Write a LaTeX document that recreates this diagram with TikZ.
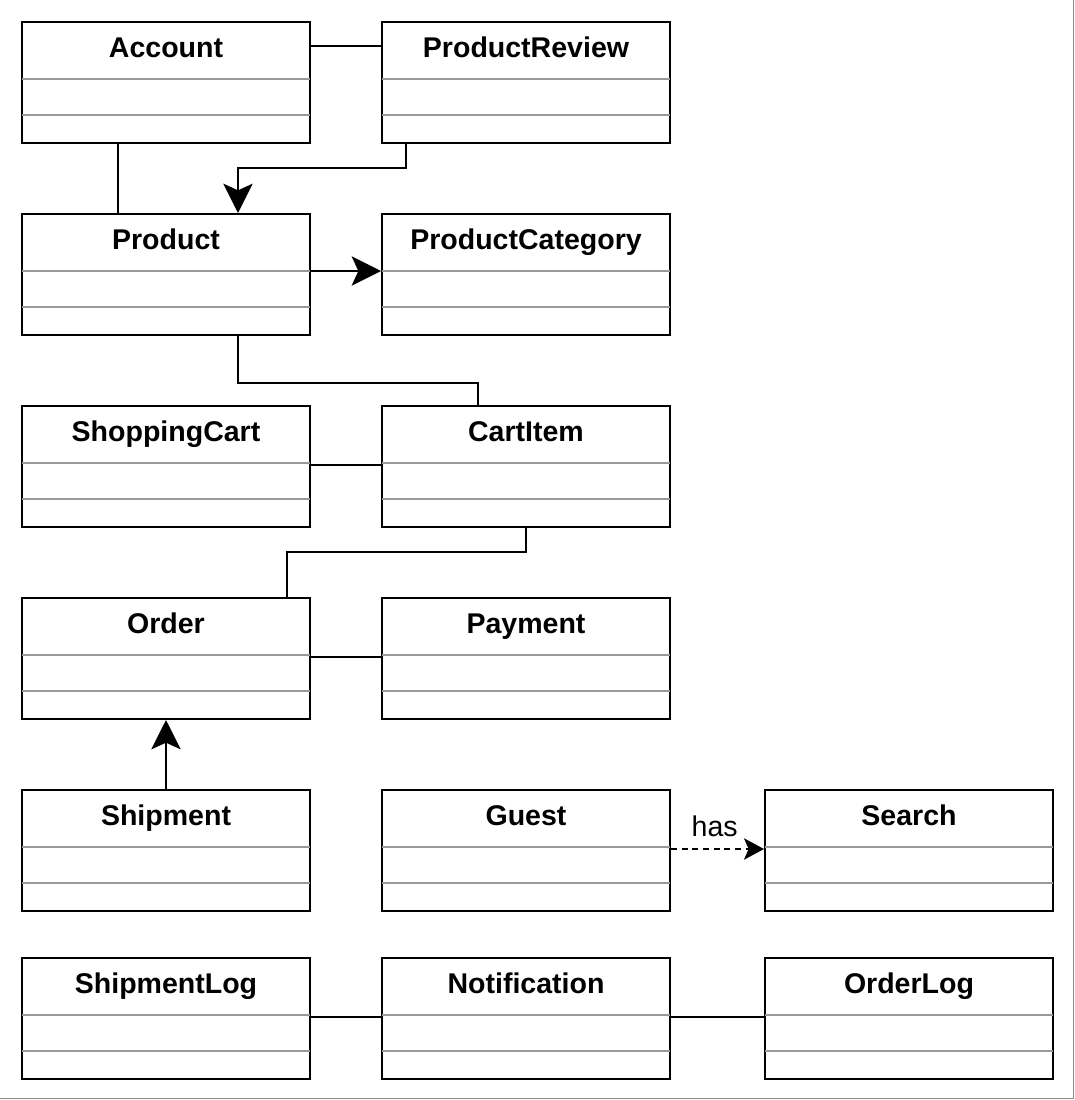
\documentclass[tikz,border=0pt]{standalone}
\usepackage{fontspec}
\setmainfont{Liberation Sans}
\usetikzlibrary{arrows.meta}
\newcommand\umlclass[4]{%
  \node[cls, anchor=north west] (#1) at (#2,#3) {};
  \node[clstitle, anchor=base] (#1-t) at ([yshift=-27pt]#1.north) {#4};
  \draw[sep] ([yshift=-43.5pt,xshift=0.7pt]#1.north west) -- ([yshift=-43.5pt,xshift=-0.7pt]#1.north east);
  \draw[sep] ([yshift=-70.5pt,xshift=0.7pt]#1.north west) -- ([yshift=-70.5pt,xshift=-0.7pt]#1.north east);
}
\tikzset{
  cls/.style={draw=black, line width=1.5pt, fill=white, minimum width=216pt, minimum height=90.75pt, inner sep=0pt},
  clstitle/.style={font=\fontsize{21.4}{25}\selectfont\bfseries, inner sep=0pt},
  sep/.style={draw=black!40, line width=1.4pt},
  conn/.style={draw=black, line width=1.4pt},
  arr/.style={conn, -{Stealth[length=22pt, width=22pt, inset=5pt]}},
  dep/.style={conn, dash pattern=on 4.5pt off 3.5pt, -{Stealth[length=15pt, width=16pt, inset=3.5pt]}},
  lbl/.style={font=\fontsize{21.4}{25}\selectfont, inner sep=0pt}
}
\begin{document}
\begin{tikzpicture}[x=0.75pt, y=-0.75pt]
\useasboundingbox (0,0) rectangle (1075,1100);
\fill[white] (0,0) rectangle (1075,1100);
\draw[black!45, line width=1pt] (0,1098.5) -- (1073.5,1098.5) -- (1073.5,0);

\umlclass{account}{21}{21}{Account}
\umlclass{review}{381}{21}{ProductReview}
\umlclass{product}{21}{213}{Product}
\umlclass{category}{381}{213}{ProductCategory}
\umlclass{cart}{21}{405}{ShoppingCart}
\umlclass{cartitem}{381}{405}{CartItem}
\umlclass{order}{21}{597}{Order}
\umlclass{payment}{381}{597}{Payment}
\umlclass{shipment}{21}{789}{Shipment}
\umlclass{guest}{381}{789}{Guest}
\umlclass{search}{764}{789}{Search}
\umlclass{shiplog}{21}{957}{ShipmentLog}
\umlclass{notification}{381}{957}{Notification}
\umlclass{orderlog}{764}{957}{OrderLog}

% connectors
\draw[conn] ([yshift=-18.75pt]account.north east) -- ([yshift=-18.75pt]review.north west);
\draw[conn] ([xshift=-36pt]account.south) -- ([xshift=-36pt]product.north);
\draw[arr] ([xshift=-90pt]review.south) -- ++(0,-18pt) -| ([xshift=54pt]product.north);
\draw[arr] ([yshift=-43.5pt]product.north east) -- ([yshift=-43.5pt]category.north west);
\draw[conn] ([xshift=54pt]product.south) -- ++(0,-35.25pt) -| ([xshift=-36pt]cartitem.north);
\draw[conn] ([yshift=-45pt]cart.north east) -- ([yshift=-45pt]cartitem.north west);
\draw[conn] (cartitem.south) -- ++(0,-18pt) -| ([xshift=90.75pt]order.north);
\draw[conn] ([yshift=-45pt]order.north east) -- ([yshift=-45pt]payment.north west);
\draw[arr] (shipment.north) -- (order.south);
\draw[dep] ([yshift=-45pt]guest.north east) -- node[lbl, pos=0.47, anchor=base, yshift=9.75pt] (haslbl) {has} ([yshift=-45pt]search.north west);
\draw[conn] ([yshift=-45pt]shiplog.north east) -- ([yshift=-45pt]notification.north west);
\draw[conn] ([yshift=-45pt]notification.north east) -- ([yshift=-45pt]orderlog.north west);
\end{tikzpicture}
\end{document}
